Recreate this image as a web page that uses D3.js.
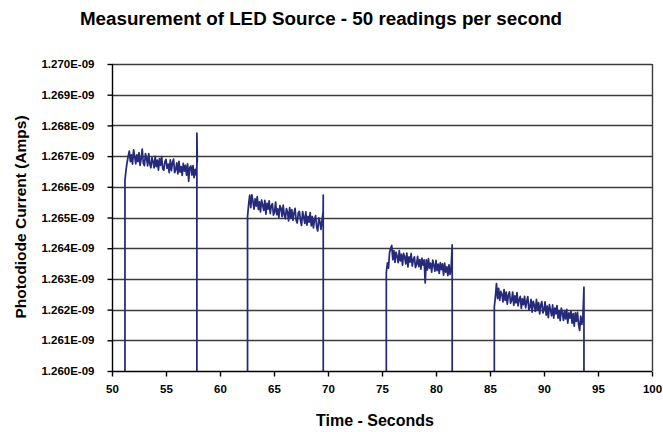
<!DOCTYPE html>
<html><head><meta charset="utf-8">
<script src="https://cdn.jsdelivr.net/npm/d3@7"></script>
<style>
body{margin:0;background:#fff}
svg{display:block}
text{font-family:"Liberation Sans",Arial,sans-serif;font-weight:bold;fill:#000}
</style>
</head><body>
<svg id="chart" width="663" height="432"></svg>
<script>
// ---- data (current in units of 1E-09 A, time in seconds) ----
const xTickValues = [50,55,60,65,70,75,80,85,90,95,100];
const yTickValues = [1.260,1.261,1.262,1.263,1.264,1.265,1.266,1.267,1.268,1.269,1.270];
const darkLevel = 1.2590;              // off-scale level between LED-on periods
const sampleStep = 0.1;                // spacing of the listed readings (s)
const riseTimes  = [51.2, 62.55, 75.4, 85.4];
const spikeTimes = [57.86, 69.56, 81.5, 93.7];
const spikeValues = [1.26775, 1.26573, 1.26411, 1.26273];

const seg1Values = [1.26622,1.26655,1.26680,1.26700,
  1.26716,1.26682,1.26704,1.26674,1.26720,1.26699,1.26675,1.26704,1.26682,1.26711,
  1.26670,1.26692,1.26723,1.26676,1.26669,1.26708,1.26693,1.26668,1.26708,1.26675,
  1.26662,1.26695,1.26682,1.26662,1.26699,1.26666,1.26687,1.26654,1.26692,1.26670,
  1.26698,1.26658,1.26654,1.26682,1.26689,1.26660,1.26674,1.26646,1.26688,1.26653,
  1.26678,1.26690,1.26646,1.26656,1.26678,1.26642,1.26683,1.26648,1.26666,1.26637,
  1.26676,1.26651,1.26670,1.26638,1.26675,1.26618,1.26663,1.26668,1.26638,1.26669,
  1.26630,1.26657,1.26638,1.26690];
const seg2Values = [1.26503,
  1.26542,1.26573,1.26532,1.26574,1.26553,1.26527,1.26561,1.26537,1.26568,1.26526,
  1.26551,1.26518,1.26557,1.26540,1.26523,1.26556,1.26511,1.26546,1.26527,1.26554,
  1.26513,1.26538,1.26545,1.26508,1.26517,1.26550,1.26509,1.26528,1.26500,1.26539,
  1.26530,1.26503,1.26540,1.26509,1.26496,1.26529,1.26518,1.26489,1.26532,1.26499,
  1.26526,1.26491,1.26514,1.26530,1.26491,1.26482,1.26515,1.26520,1.26491,1.26474,
  1.26519,1.26502,1.26481,1.26518,1.26475,1.26504,1.26485,1.26516,1.26473,1.26503,
  1.26466,1.26493,1.26506,1.26469,1.26456,1.26499,1.26486,1.26461,1.26492,1.26520];
const seg3Values = [1.26320,1.26352,1.26335,1.26386,1.26399,1.26409,1.26363,1.26392,1.26354,1.26387,
  1.26374,1.26353,1.26392,1.26359,1.26380,1.26345,1.26383,1.26372,1.26349,1.26384,
  1.26339,1.26372,1.26355,1.26382,1.26342,1.26363,1.26372,1.26337,1.26348,1.26373,
  1.26340,1.26363,1.26332,1.26368,1.26345,1.26362,1.26287,1.26362,1.26329,1.26366,
  1.26335,1.26351,1.26322,1.26361,1.26344,1.26325,1.26360,1.26327,1.26348,1.26318,
  1.26353,1.26330,1.26349,1.26312,1.26351,1.26322,1.26339,1.26311,1.26346,1.26315,
  1.26338];
const seg4Values = [1.26209,
  1.26242,1.26285,1.26236,1.26269,1.26230,1.26259,1.26250,1.26225,1.26265,1.26230,
  1.26257,1.26218,1.26247,1.26258,1.26221,1.26230,1.26257,1.26214,1.26245,1.26222,
  1.26255,1.26212,1.26232,1.26243,1.26204,1.26235,1.26216,1.26243,1.26206,1.26227,
  1.26242,1.26199,1.26208,1.26233,1.26192,1.26227,1.26215,1.26194,1.26233,1.26198,
  1.26223,1.26186,1.26215,1.26226,1.26189,1.26200,1.26225,1.26182,1.26211,1.26174,
  1.26216,1.26199,1.26180,1.26215,1.26172,1.26205,1.26186,1.26213,1.26172,1.26197,
  1.26164,1.26205,1.26190,1.26165,1.26197,1.26170,1.26201,1.26156,1.26189,1.26172,
  1.26195,1.26156,1.26187,1.26146,1.26189,1.26162,1.26191,1.26152,1.26132,1.26179,
  1.26152,1.26175];
const segments = [seg1Values, seg2Values, seg3Values, seg4Values];

// ---- build the point series ----
const points = [];
segments.forEach((vals, s) => {
  points.push([riseTimes[s], darkLevel]);
  vals.forEach((v, i) => points.push([riseTimes[s] + i * sampleStep, v]));
  points.push([spikeTimes[s], spikeValues[s]]);
  points.push([spikeTimes[s], darkLevel]);
});

// ---- layout ----
const L = 112, R = 652, T = 64, B = 371;
const svg = d3.select("#chart");
const x = d3.scaleLinear().domain([50, 100]).range([L, R]);
const y = d3.scaleLinear().domain([1.260, 1.270]).range([B, T]);

// gridlines
svg.append("g").selectAll("line").data(yTickValues.slice(1)).join("line")
  .attr("x1", L).attr("x2", R)
  .attr("y1", d => Math.round(y(d)) + 0.5).attr("y2", d => Math.round(y(d)) + 0.5)
  .attr("stroke", "#3c3c3c").attr("stroke-width", 1.4);
// right border
svg.append("line").attr("x1", R + 0.5).attr("x2", R + 0.5).attr("y1", T).attr("y2", B)
  .attr("stroke", "#3c3c3c").attr("stroke-width", 1.4);

// data line
svg.append("clipPath").attr("id", "clip").append("rect")
  .attr("x", L).attr("y", T).attr("width", R - L).attr("height", B - T);
svg.append("path").datum(points)
  .attr("clip-path", "url(#clip)")
  .attr("fill", "none").attr("stroke", "#262a7a").attr("stroke-width", 1.75)
  .attr("stroke-linejoin", "round")
  .attr("d", d3.line().x(d => x(d[0])).y(d => y(d[1])));

// axes
const fmt = d => d.toFixed(3) + "E-09";
const yAxis = svg.append("g").attr("transform", `translate(${L + 0.5},0)`)
  .call(d3.axisLeft(y).tickValues(yTickValues).tickFormat(fmt).tickSize(5).tickPadding(13));
const xAxis = svg.append("g").attr("transform", `translate(0,${B + 0.5})`)
  .call(d3.axisBottom(x).tickValues(xTickValues).tickFormat(d3.format("d")).tickSize(5).tickPadding(8));
[yAxis, xAxis].forEach(g => {
  g.select(".domain").attr("stroke", "#000").attr("stroke-width", 1.4);
  g.selectAll(".tick line").attr("stroke", "#000").attr("stroke-width", 1.4);
  g.selectAll("text").attr("font-family", '"Liberation Sans",Arial,sans-serif')
    .attr("font-weight", "bold").attr("font-size", 11.5).attr("fill", "#000");
});
yAxis.select(".domain").attr("d", `M0,${T}V${B}`);
xAxis.select(".domain").attr("d", `M${L},0H${R}`);

// titles
svg.append("text").attr("x", 321).attr("y", 25).attr("text-anchor", "middle")
  .attr("font-size", 18.8).text("Measurement of LED Source - 50 readings per second");
svg.append("text").attr("x", 375).attr("y", 426).attr("text-anchor", "middle")
  .attr("font-size", 16).text("Time - Seconds");
svg.append("text").attr("transform", "translate(26,217) rotate(-90)").attr("text-anchor", "middle")
  .attr("font-size", 15.5).text("Photodiode Current (Amps)");
</script>
</body></html>
